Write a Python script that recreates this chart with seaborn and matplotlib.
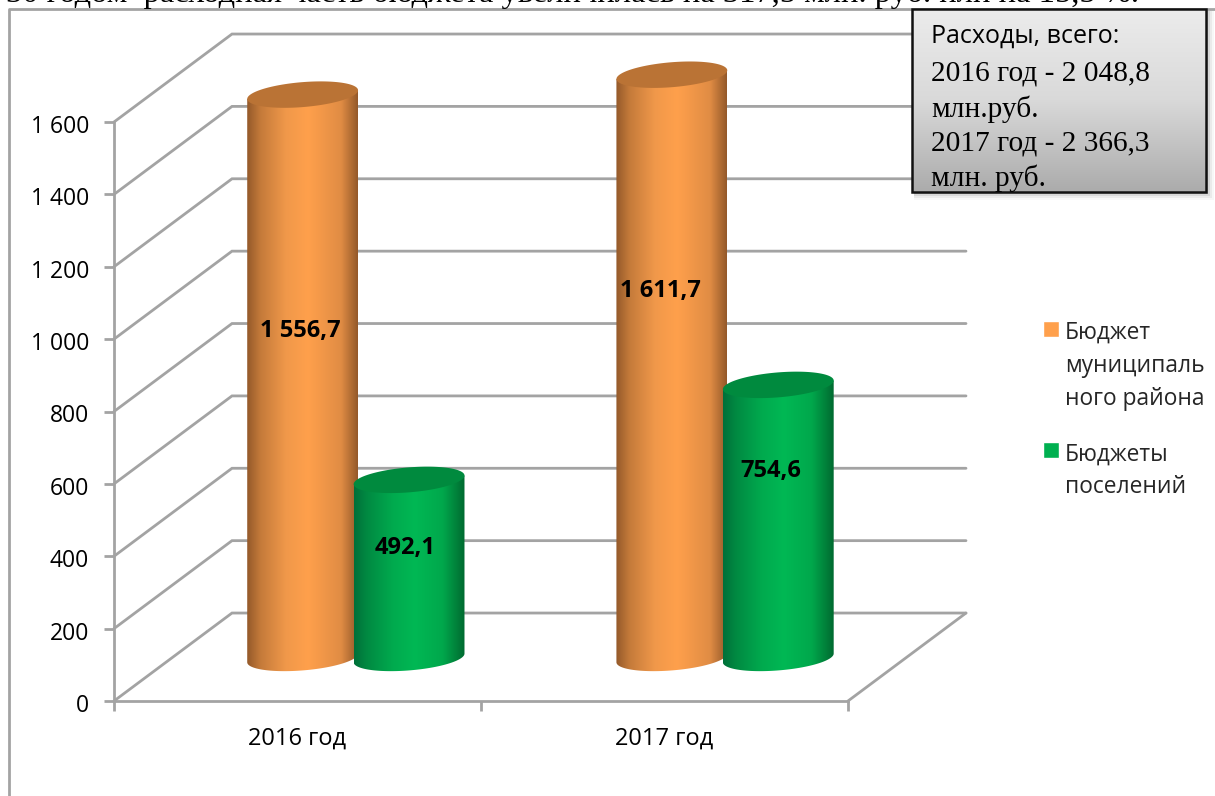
import numpy as np
import pandas as pd
import seaborn as sns
import matplotlib.pyplot as plt
from matplotlib.colors import LinearSegmentedColormap
from matplotlib.patches import Polygon, Rectangle
from matplotlib.transforms import ScaledTranslation

# Данные диаграммы
years = ['2016 год', '2017 год']
municipal = [1556.7, 1611.7]
settlements = [492.1, 754.6]
budget_names = ['Бюджет\nмуниципаль\nного района', 'Бюджеты\nпоселений']
y_ticks = [0, 200, 400, 600, 800, 1000, 1200, 1400, 1600]
top_text = '30 годом  расходная часть бюджета увеличилась на 317,5 млн. руб. или на 15,5 %.'
box_lines = ['Расходы, всего:', '2016 год - 2 048,8', 'млн.руб.', '2017 год - 2 366,3', 'млн. руб.']

df = pd.DataFrame({
    'year': years * 2,
    'value': municipal + settlements,
    'budget': [budget_names[0]] * 2 + [budget_names[1]] * 2,
})

sns.set_theme(style='white')
plt.rcParams['font.family'] = ['Open Sans', 'DejaVu Sans']
SANS = ['Open Sans', 'DejaVu Sans']
SERIF = ['Liberation Serif', 'DejaVu Serif']
GREY = '#a3a3a3'

fig = plt.figure(figsize=(12.15, 7.96), dpi=100)
ax = fig.add_axes([114 / 1215, 95 / 796, 734 / 1215, 579 / 796])

sns.barplot(data=df, x='year', y='value', hue='budget', hue_order=budget_names,
            palette=['#ffa04c', '#00b050'], saturation=1, width=0.58, gap=0, ax=ax)

# Псевдо-3D: сдвиг задней стенки и основания цилиндров в единицах данных
depth_x, depth_y = 118 / 367, 88 / 0.362
base_x, base_y = [0.159, 0.165], 119
for v in y_ticks:
    ax.plot([-0.5, -0.5 + depth_x, 1.5 + depth_x], [v, v + depth_y, v + depth_y],
            color=GREY, lw=2, clip_on=False, zorder=1, solid_joinstyle='miter')
ax.plot([1.5, 1.5 + depth_x], [0, depth_y], color=GREY, lw=2, clip_on=False, zorder=1)

orange_map = LinearSegmentedColormap.from_list(
    'o', [(0, '#94592a'), (0.12, '#c47a3a'), (0.35, '#f0984a'), (0.55, '#ffa04c'), (0.85, '#e08c44'), (1, '#94592a')])
green_map = LinearSegmentedColormap.from_list(
    'g', [(0, '#00703a'), (0.12, '#008a42'), (0.35, '#00aa4e'), (0.55, '#00b854'), (0.8, '#00a84c'), (1, '#006a30')])
t = np.linspace(0, 2 * np.pi, 120)
grad = np.linspace(0, 1, 256).reshape(1, -1)
bars = sorted([b for c in ax.containers for b in c], key=lambda p: p.get_x())
label_y = [1022, 423, 1133, 635]
label_dx = [-0.005, -0.012, -0.03, -0.02]

for i, bar in enumerate(bars):
    bar.set_visible(False)
    value = bar.get_height()
    cx = bar.get_x() + bar.get_width() / 2 + base_x[i // 2]
    a = bar.get_width() / 2 + 0.006
    b, tilt = 34.5, 12
    is_orange = i % 2 == 0
    cmap = orange_map if is_orange else green_map
    top_color = '#ba7335' if is_orange else '#008a3e'
    z = 3 + i * 3
    # нижняя половина эллипса основания и верхняя крышка
    tb = np.linspace(np.pi, 2 * np.pi, 60)
    xs = cx + a * np.cos(tb)
    ys = base_y + b * np.sin(tb) + tilt * np.cos(tb)
    top_y = base_y + value
    outline = np.column_stack([np.r_[xs, cx + a, cx - a], np.r_[ys, top_y + tilt, top_y - tilt]])
    clip = Polygon(outline, closed=True, transform=ax.transData, fc='none', ec='none', clip_on=False)
    ax.add_patch(clip)
    img = ax.imshow(grad, cmap=cmap, extent=[cx - a, cx + a, base_y - 60, top_y + 60],
                    aspect='auto', zorder=z, interpolation='bilinear')
    img.set_clip_path(clip)
    img.set_clip_box(fig.bbox)
    ax.add_patch(Polygon(np.column_stack([cx + a * np.cos(t), top_y + b * np.sin(t) + tilt * np.cos(t)]),
                         closed=True, fc=top_color, ec='none', zorder=z + 1, clip_on=False))
    label = f'{value:,.1f}'.replace(',', ' ').replace('.', ',')
    ax.text(cx + label_dx[i], label_y[i], label, ha='center', va='center', fontsize=17,
            fontweight='bold', color='black', zorder=40)

ax.set_xlim(-0.5, 1.5)
ax.set_ylim(0, 1600)
ax.set_xlabel('')
ax.set_ylabel('')
ax.set_yticks(y_ticks)
ax.set_yticklabels([f'{v:,}'.replace(',', ' ') for v in y_ticks], fontsize=16.5, color='black')
ax.set_xticks([-0.5, 0.5, 1.5], minor=True)
ax.tick_params(axis='x', which='major', length=0, pad=18.5, labelsize=17, labelcolor='black')
ax.tick_params(axis='x', which='minor', length=7, width=2, color=GREY, bottom=True)
ax.tick_params(axis='y', length=7, width=2, color=GREY, left=True, pad=11)
shift_down = ScaledTranslation(0, -2 / 100, fig.dpi_scale_trans)
for tick_label in ax.get_yticklabels():
    tick_label.set_transform(tick_label.get_transform() + shift_down)
sns.despine(ax=ax)
for side in ['left', 'bottom']:
    ax.spines[side].set_color(GREY)
    ax.spines[side].set_linewidth(2)

sns.move_legend(ax, 'upper left', bbox_to_anchor=(1043 / 1215, 1 - 321 / 796),
                bbox_transform=fig.transFigure, title=None, frameon=False, fontsize=16.4,
                handlelength=0.7, handleheight=0.7, handletextpad=0.25, labelspacing=1.38,
                borderpad=0, borderaxespad=0)
legend = ax.get_legend()
for txt in legend.get_texts():
    txt.set_linespacing(1.5)
# маркер на уровне первой строки подписи
for item in legend._legend_handle_box.get_children()[0].get_children():
    item.align = 'top'

# Рамка, обрезанная строка текста и выноска поверх диаграммы
over = fig.add_axes([0, 0, 1, 1], zorder=5)
over.set_xlim(0, 1215)
over.set_ylim(796, 0)
over.axis('off')
over.plot([9, 9, 1215], [796, 9, 9], color=GREY, lw=2)
over.text(6, 2, top_text, family=SERIF, fontsize=23.4, color='black', va='baseline')

for k, alpha in zip([8, 6, 4, 2], [0.03, 0.05, 0.08, 0.1]):
    over.add_patch(Rectangle((912 + 2, 9 + 2), 294 + k - 2, 183 + k - 2, fc='black', ec='none', alpha=alpha, zorder=2))
box_grad = np.linspace(0, 1, 256).reshape(-1, 1)
box_cmap = LinearSegmentedColormap.from_list('box', ['#ececec', '#d9d9d9', '#ababab'])
over.imshow(box_grad, cmap=box_cmap, extent=[912, 1206, 192, 9], aspect='auto', zorder=3)
over.set_xlim(0, 1215)
over.set_ylim(796, 0)
over.add_patch(Rectangle((912, 9), 294, 183, fc='none', ec='#111111', lw=1.8, zorder=4))
over.text(931, 36, box_lines[0], family=SANS, fontsize=18, va='center', color='black', zorder=5)
for line, y in zip(box_lines[1:], [74, 109, 143, 178]):
    over.text(931, y, line, family=SERIF, fontsize=21.2, va='center', color='black', zorder=5)

fig.savefig('out.png', dpi=100)
